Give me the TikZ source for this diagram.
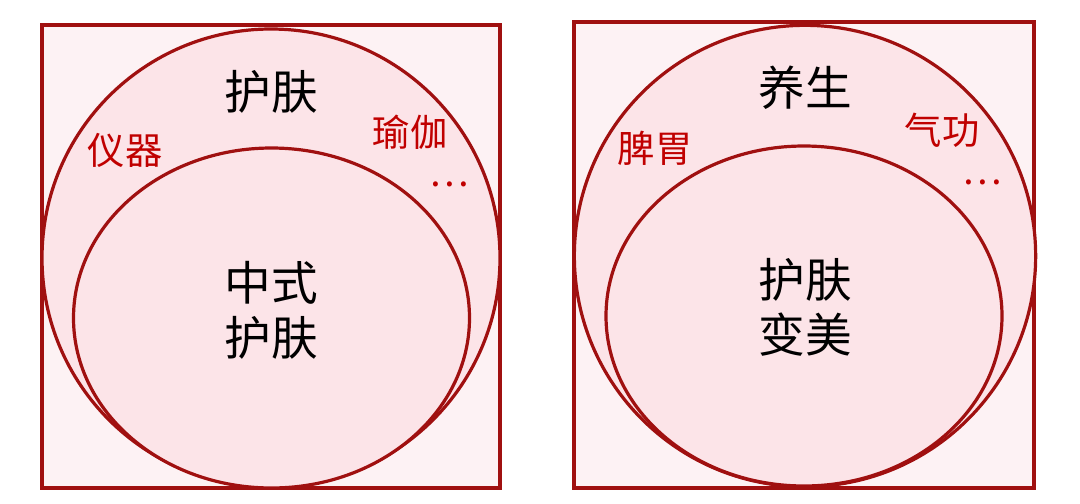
\documentclass[tikz,border=0pt]{standalone}
\usepackage{fontspec}
\usepackage{tikz}
\newfontfamily\cjk{Noto Sans CJK SC}
\definecolor{rahmen}{RGB}{160,16,16}
\definecolor{rot}{RGB}{192,0,0}
\definecolor{hell}{RGB}{253,242,244}
\definecolor{rosa}{RGB}{252,228,232}
\tikzset{
  kasten/.style={draw=rahmen,line width=3pt,fill=hell},
  kreis/.style={draw=rahmen,line width=2.4pt,fill=rosa},
  haupt/.style={font=\cjk\fontsize{35}{41}\selectfont,text=black,align=center},
  neben/.style={font=\cjk\fontsize{28}{32}\selectfont,text=rot}
}
\begin{document}
\begin{tikzpicture}[x=0.75pt,y=-0.75pt]
  \useasboundingbox (0,0) rectangle (1080,503);

  % links
  \draw[kasten] (42,25) rectangle (500,488);
  \draw[kreis] (271,258) circle (171.75pt);
  \draw[kreis] (271.5,318) ellipse [x radius=148.5pt, y radius=127.5pt];
  \node[haupt] (HautL) at (271,92) {护肤};
  \node[neben] (Geraet) at (125,150) {仪器};
  \node[neben] (Yoga) at (410,132) {瑜伽};
  \node[neben] (PunkteL) at (449,184) {…};
  \node[haupt] (Chinesisch) at (271,310) {中式\\护肤};

  % rechts
  \draw[kasten] (574,22) rectangle (1034,488);
  \draw[kreis] (805,256) circle (173pt);
  \draw[kreis] (804,316) ellipse [x radius=148.5pt, y radius=127.5pt];
  \node[haupt] (Pflege) at (805,88) {养生};
  \node[neben] (Magen) at (655,148) {脾胃};
  \node[neben] (Qigong) at (942,130) {气功};
  \node[neben] (PunkteR) at (982,182) {…};
  \node[haupt] (Schoen) at (805,307) {护肤\\变美};
\end{tikzpicture}
\end{document}
